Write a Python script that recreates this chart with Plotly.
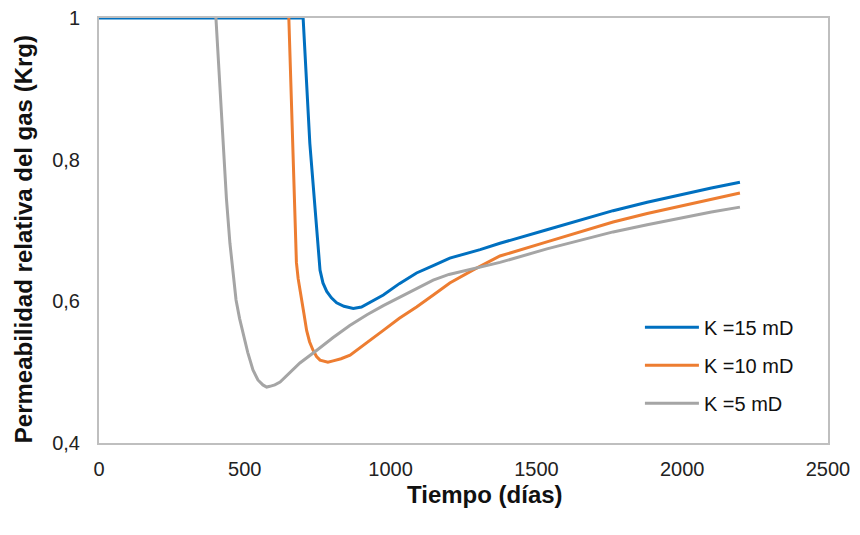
import plotly.graph_objects as go

# Data
x_k15 = [0, 700, 723, 747, 752, 758, 768, 781, 797, 815, 840, 872, 900, 935, 975, 1030, 1089, 1150, 1203, 1307, 1375, 1536, 1650, 1763, 1880, 2000, 2100, 2198]
y_k15 = [1.0, 1.0, 0.823, 0.700, 0.665, 0.644, 0.626, 0.614, 0.605, 0.598, 0.593, 0.590, 0.592, 0.600, 0.609, 0.625, 0.640, 0.651, 0.661, 0.673, 0.682, 0.701, 0.715, 0.728, 0.740, 0.751, 0.760, 0.768]

x_k10 = [651, 656, 662, 667, 672, 677, 683, 689, 695, 703, 712, 722, 734, 746, 758, 772, 785, 803, 830, 861, 915, 975, 1030, 1089, 1150, 1203, 1282, 1375, 1536, 1650, 1763, 1880, 2000, 2100, 2198]
y_k10 = [1.0, 0.93, 0.85, 0.76, 0.690, 0.655, 0.632, 0.618, 0.606, 0.582, 0.559, 0.543, 0.531, 0.522, 0.517, 0.515, 0.514, 0.516, 0.519, 0.524, 0.540, 0.559, 0.576, 0.592, 0.610, 0.626, 0.644, 0.664, 0.684, 0.698, 0.712, 0.724, 0.735, 0.744, 0.753]

x_k5 = [401, 412, 425, 437, 449, 460, 470, 482, 494, 510, 528, 545, 562, 575, 586, 603, 621, 655, 689, 747, 803, 860, 919, 975, 1032, 1090, 1146, 1200, 1262, 1375, 1536, 1650, 1763, 1880, 2000, 2100, 2198]
y_k5 = [1.0, 0.92, 0.823, 0.745, 0.682, 0.635, 0.602, 0.576, 0.555, 0.528, 0.503, 0.489, 0.482, 0.479, 0.480, 0.482, 0.486, 0.500, 0.513, 0.531, 0.549, 0.566, 0.581, 0.594, 0.606, 0.619, 0.630, 0.638, 0.644, 0.655, 0.674, 0.686, 0.698, 0.708, 0.718, 0.726, 0.733]

names = ["K =15 mD", "K =10 mD", "K =5 mD"]
colors = ["#0070C0", "#ED7D31", "#A5A5A5"]

y_tickvals = [0.4, 0.6, 0.8, 1.0]
y_ticktext = ["0,4", "0,6", "0,8", "1"]
x_tickvals = [0, 500, 1000, 1500, 2000, 2500]

x_title = "Tiempo (días)"
y_title = "Permeabilidad relativa del gas (Krg)"

FONT = "Liberation Sans, Arial, sans-serif"

fig = go.Figure()
for i, (xs, ys) in enumerate([(x_k15, y_k15), (x_k10, y_k10), (x_k5, y_k5)]):
    fig.add_trace(go.Scatter(
        x=xs, y=ys, mode="lines", name=names[i], legendgroup=f"g{i}",
        line=dict(color=colors[i], width=3),
    ))

title_font = dict(family=FONT, size=24, color="#111111", weight="bold")

fig.update_layout(
    width=860, height=535,
    margin=dict(l=91, r=40, t=10, b=100),
    paper_bgcolor="white", plot_bgcolor="white",
    font=dict(family=FONT, size=20, color="#222222"),
    showlegend=True,
    legend=dict(
        x=0.742, y=0.318, xanchor="left", yanchor="top",
        font=dict(family=FONT, size=20, color="#111111"),
        traceorder="grouped", tracegroupgap=9, itemwidth=54,
        bgcolor="rgba(0,0,0,0)",
    ),
    xaxis=dict(
        range=[0, 2500], tickvals=x_tickvals, showgrid=False, zeroline=False,
        showline=True, linecolor="#BFBFBF", linewidth=2, mirror=True,
        ticks="", ticklabelstandoff=7, automargin=False, ticklabeloverflow="allow",
        tickfont=dict(family=FONT, size=20, color="#222222"),
    ),
    yaxis=dict(
        range=[0.4, 1.0], tickvals=y_tickvals, ticktext=y_ticktext,
        showgrid=False, zeroline=False,
        showline=True, linecolor="#BFBFBF", linewidth=2, mirror=True,
        ticks="", ticklabelstandoff=13, automargin=False, ticklabeloverflow="allow",
        tickfont=dict(family=FONT, size=20, color="#222222"),
    ),
    annotations=[
        dict(text=x_title, xref="paper", yref="paper", x=0.530, y=-0.12,
             xanchor="center", yanchor="middle", showarrow=False, font=title_font),
        dict(text=y_title, xref="paper", yref="paper", x=-0.104, y=0.48,
             xanchor="center", yanchor="middle", textangle=-90, showarrow=False,
             font=title_font),
    ],
)

fig.write_html("out.html")
